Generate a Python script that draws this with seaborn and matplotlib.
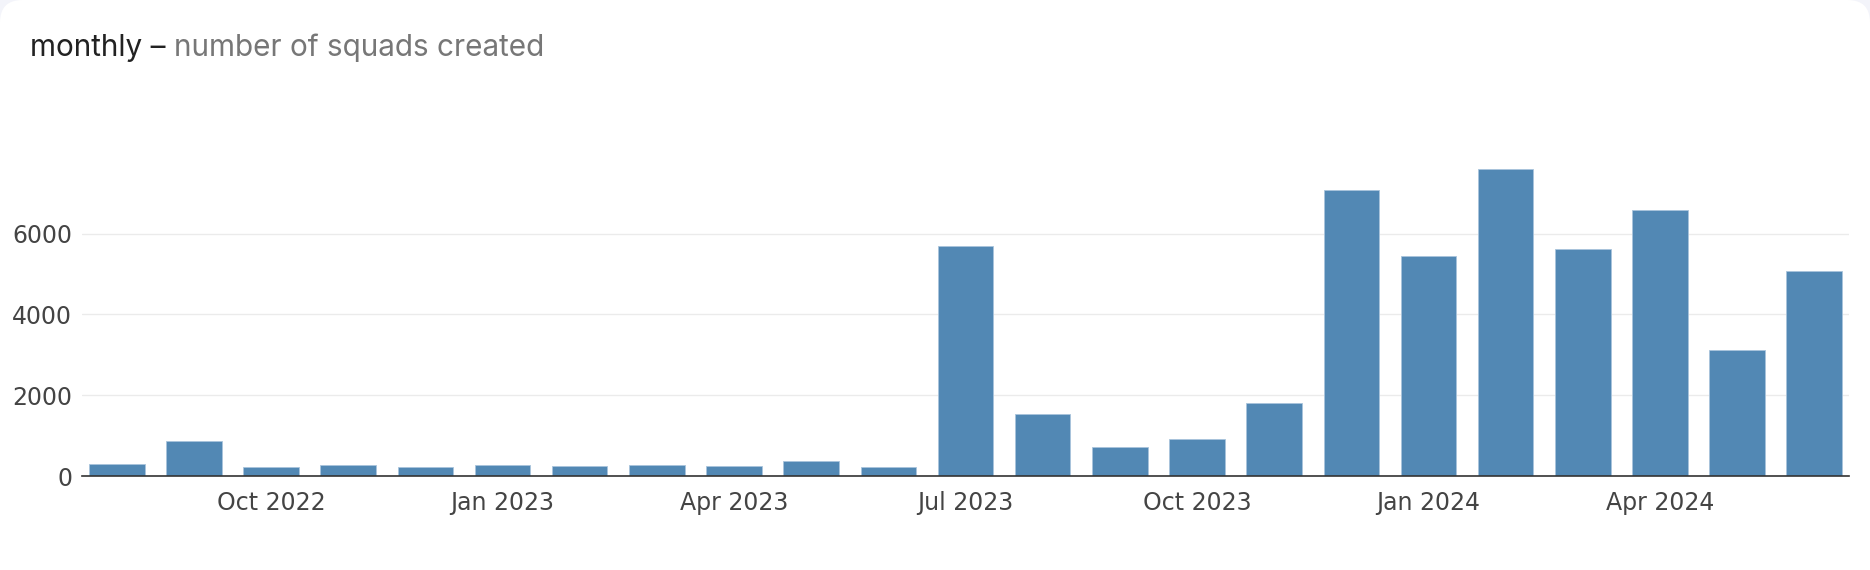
import seaborn as sns
import matplotlib.pyplot as plt
import pandas as pd
from matplotlib.patches import FancyBboxPatch

months = ['2022-08', '2022-09', '2022-10', '2022-11', '2022-12',
          '2023-01', '2023-02', '2023-03', '2023-04', '2023-05', '2023-06',
          '2023-07', '2023-08', '2023-09', '2023-10', '2023-11', '2023-12',
          '2024-01', '2024-02', '2024-03', '2024-04', '2024-05', '2024-06']
squads = [289, 858, 231, 264, 231, 264, 248, 264, 239, 371, 215,
          5705, 1546, 714, 911, 1818, 7082, 5452, 7610, 5625, 6588, 3128, 5088]
tick_labels = ['Oct 2022', 'Jan 2023', 'Apr 2023', 'Jul 2023',
               'Oct 2023', 'Jan 2024', 'Apr 2024']
y_ticks = [0, 2000, 4000, 6000]

df = pd.DataFrame({'month': months, 'squads': squads})

sns.set_theme(style='white')
plt.rcParams['font.family'] = ['DejaVu Sans']

fig = plt.figure(figsize=(18.7, 5.7), dpi=100)
fig.patch.set_facecolor('#f3f4fa')
# white card with rounded corners, behind the axes
card = FancyBboxPatch((0.0, -0.2), 1.0, 1.2, boxstyle='round,pad=0,rounding_size=0.012',
                      transform=fig.transFigure, facecolor='white', edgecolor='none',
                      mutation_aspect=1870 / 570, zorder=-10)
fig.patches.append(card)

ax = fig.add_axes([82 / 1870, 1 - 476 / 570, (1849 - 82) / 1870, (476 - 157) / 570])
ax.set_facecolor('none')
sns.barplot(data=df, x='month', y='squads', color='#5288b4', saturation=1,
            width=0.72, edgecolor='#a9c4dc', linewidth=0.6, ax=ax)

ax.set_xlim(-0.45, len(months) - 0.55)
ax.set_ylim(0, 7900)
ax.set_yticks(y_ticks)
ax.set_yticklabels([str(v) for v in y_ticks])
tick_pos = [months.index(m) for m in ['2022-10', '2023-01', '2023-04', '2023-07',
                                       '2023-10', '2024-01', '2024-04']]
ax.set_xticks(tick_pos)
ax.set_xticklabels(tick_labels)
ax.tick_params(axis='both', length=0, labelsize=17, colors='#444444')
ax.tick_params(axis='x', pad=11)
ax.tick_params(axis='y', pad=7)
ax.set_xlabel('')
ax.set_ylabel('')

ax.yaxis.grid(True, color='#ebebeb', linewidth=1)
ax.set_axisbelow(True)
for side in ['top', 'right', 'left']:
    ax.spines[side].set_visible(False)
ax.spines['bottom'].set_color('#333333')
ax.spines['bottom'].set_linewidth(1.2)

t1 = fig.text(30 / 1870, 1 - 56 / 570, 'monthly – ', fontsize=21.4, color='#222222',
              family=['Inter', 'DejaVu Sans'])
fig.canvas.draw()
bb = t1.get_window_extent()
fig.text(bb.x1 / 1870, 1 - 56 / 570, 'number of squads created', fontsize=21.4,
         color='#777777', family=['Inter', 'DejaVu Sans'])

fig.savefig('out.png', dpi=100)
